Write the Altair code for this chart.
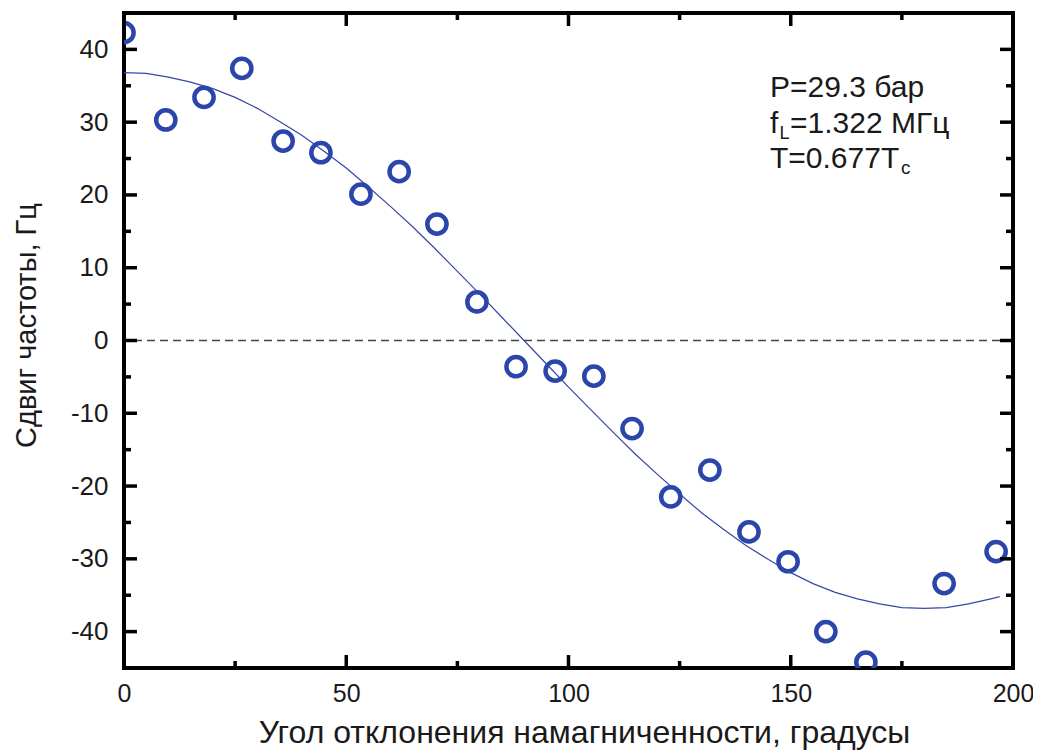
import altair as alt
import pandas as pd

# Measured points (angle, frequency shift)
angle_deg = [0.0, 9.4, 18.0, 26.5, 35.8, 44.3, 53.3, 61.9, 70.4, 79.4, 88.2,
             97.0, 105.7, 114.3, 123.0, 131.8, 140.6, 149.4, 157.9, 166.9,
             184.5, 196.2]
shift_hz = [42.3, 30.3, 33.4, 37.4, 27.4, 25.8, 20.1, 23.2, 16.0, 5.3, -3.6,
            -4.2, -4.9, -12.1, -21.5, -17.8, -26.3, -30.4, -40.0, -44.2,
            -33.4, -29.0]

# Fit curve
fit_angle = [0, 5, 10, 15, 20, 25, 30, 35, 40, 45, 50, 55, 60, 65, 70, 75, 80,
             85, 90, 95, 100, 105, 110, 115, 120, 125, 130, 135, 140, 145, 150,
             155, 160, 165, 170, 175, 180, 185, 190, 195, 197]
fit_shift = [36.8, 36.7, 36.2, 35.5, 34.6, 33.4, 31.9, 30.1, 28.2, 26.0, 23.7,
             21.1, 18.4, 15.6, 12.6, 9.5, 6.4, 3.2, 0.0, -3.2, -6.4, -9.5,
             -12.6, -15.6, -18.4, -21.1, -23.7, -26.0, -28.2, -30.1, -31.9,
             -33.4, -34.6, -35.5, -36.2, -36.7, -36.8, -36.7, -36.2, -35.5,
             -35.2]

x_major = [0, 50, 100, 150, 200]
x_minor = [25, 75, 125, 175]
y_major = [-40, -30, -20, -10, 0, 10, 20, 30, 40]
y_minor = [-35, -25, -15, -5, 5, 15, 25, 35]
zero_level = [0]

ann_line1 = "P=29.3 бар"
ann_f = "f"
ann_L = "L"
ann_line2 = "=1.322 МГц"
ann_line3 = "T=0.677T"
ann_c = "c"

W, H = 889, 655
FONT = "Liberation Sans"
BLUE = "#2a46ab"

xs = alt.Scale(domain=[0, 200], nice=False, zero=False)
ys = alt.Scale(domain=[-45, 45], nice=False, zero=False)

pts_df = pd.DataFrame({"a": angle_deg, "s": shift_hz})
fit_df = pd.DataFrame({"a": fit_angle, "s": fit_shift})

x_axis = alt.Axis(values=x_major, labelExpr="'' + datum.value", labelFontSize=25,
                  labelFont=FONT, labelColor="#1a1a1a", labelPadding=13,
                  labelFlush=False, labelOverlap=False, labelBound=False,
                  ticks=False, tickSize=0, domain=False, grid=False,
                  title="Угол отклонения намагниченности, градусы",
                  titleFont=FONT, titleFontSize=32, titleFontWeight="normal",
                  titleColor="#1a1a1a", titleX=460, titleY=74,
                  titleBaseline="alphabetic")
y_axis = alt.Axis(values=y_major, labelExpr="'' + datum.value", labelFontSize=26,
                  labelFont=FONT, labelColor="#1a1a1a", labelPadding=16,
                  labelFlush=False, labelOverlap=False,
                  ticks=False, tickSize=0, domain=False, grid=False,
                  title="Сдвиг частоты, Гц", titleFont=FONT, titleFontSize=29,
                  titleFontWeight="normal", titleColor="#1a1a1a",
                  titleX=-89, titleY=312, titleBaseline="alphabetic")

zero_rule = alt.Chart(pd.DataFrame({"z": zero_level})).mark_rule(
    color="#444444", strokeWidth=1.5, strokeDash=[8, 5]
).encode(y=alt.Y("z:Q", scale=ys, axis=y_axis))

fit_line = alt.Chart(fit_df).mark_line(
    color="#3548a8", strokeWidth=1.2, clip=True
).encode(x=alt.X("a:Q", scale=xs, axis=x_axis), y=alt.Y("s:Q", scale=ys))

points = alt.Chart(pts_df).mark_point(
    shape="circle", filled=False, size=370, strokeWidth=4.5, color=BLUE,
    opacity=1, clip=True
).encode(x=alt.X("a:Q", scale=xs), y=alt.Y("s:Q", scale=ys))

def xticks(vals, y0, y1):
    return alt.Chart(pd.DataFrame({"v": vals})).mark_rule(
        color="black", strokeWidth=3.5
    ).encode(x=alt.X("v:Q", scale=xs), y=alt.value(y0), y2=alt.value(y1))

def yticks(vals, x0, x1):
    return alt.Chart(pd.DataFrame({"v": vals})).mark_rule(
        color="black", strokeWidth=3.5
    ).encode(y=alt.Y("v:Q", scale=ys), x=alt.value(x0), x2=alt.value(x1))

ticks = [
    xticks(x_major, H, H - 13), xticks(x_minor, H, H - 7),
    xticks(x_major, 0, 13), xticks(x_minor, 0, 7),
    yticks(y_major, 0, 13), yticks(y_minor, 0, 7),
    yticks(y_major, W, W - 13), yticks(y_minor, W, W - 7),
]

def txt(s, x, y, size):
    return alt.Chart(pd.DataFrame({"t": [s]})).mark_text(
        font=FONT, fontSize=size, align="left", baseline="alphabetic",
        color="#1a1a1a"
    ).encode(text="t:N", x=alt.value(x), y=alt.value(y))

ox, oy = 124, 13
annots = [
    txt(ann_line1, 770 - ox, 97 - oy, 30),
    txt(ann_f, 770 - ox, 133 - oy, 30),
    txt(ann_L, 779.5 - ox, 139 - oy, 18),
    txt(ann_line2, 790 - ox, 133 - oy, 30),
    txt(ann_line3, 770 - ox, 168 - oy, 30),
    txt(ann_c, 901 - ox, 174 - oy, 19),
]

chart = alt.layer(zero_rule, fit_line, points, *ticks, *annots).properties(
    width=W, height=H, autosize="none",
    padding={"left": 116, "top": 5, "right": 20, "bottom": 86},
    background="white",
).configure_view(stroke="black", strokeWidth=4)

chart.save("out.html", embed_options={"renderer": "svg", "actions": False})
